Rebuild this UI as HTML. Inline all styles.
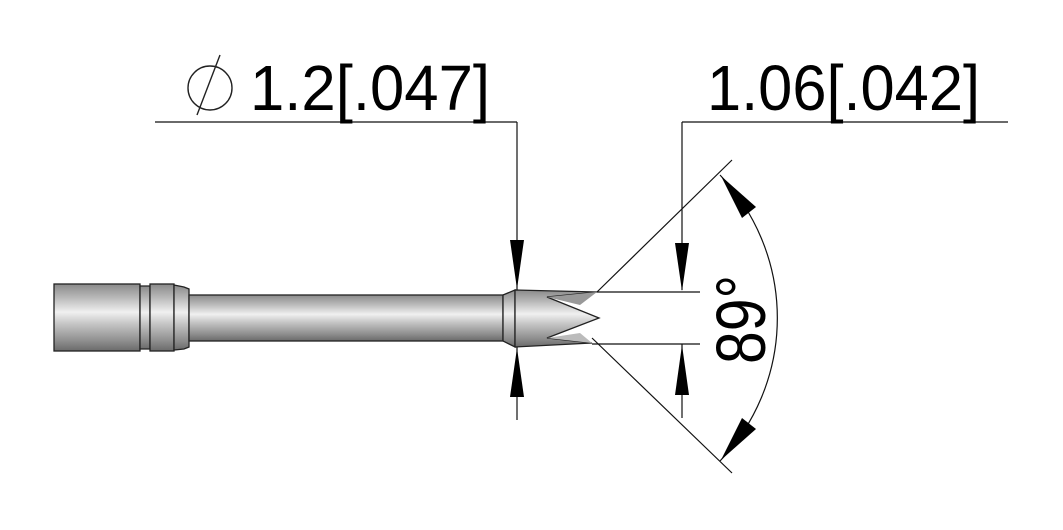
<!DOCTYPE html>
<html><head><meta charset="utf-8"><style>html,body{margin:0;padding:0;background:#fff}svg{display:block}</style></head><body>
<svg width="1063" height="530" viewBox="0 0 1063 530" xmlns="http://www.w3.org/2000/svg">
<defs>
<linearGradient id="g" x1="0" y1="0" x2="0" y2="1">
<stop offset="0" stop-color="#8a8a8a"/><stop offset="0.2" stop-color="#b8b8b8"/><stop offset="0.42" stop-color="#f0f0f0"/><stop offset="0.6" stop-color="#c4c4c4"/><stop offset="0.85" stop-color="#8e8e8e"/><stop offset="1" stop-color="#6a6a6a"/>
</linearGradient>
</defs>
<g stroke="#222" stroke-width="1.3" fill="url(#g)">
<rect x="54" y="284" width="86" height="67"/>
<path d="M140 286 L150 286 L150 349 L140 349 Z"/>
<rect x="150" y="284" width="24" height="67"/>
<path d="M174 285 L184 287 L189 289 L189 347 L184 349 L174 350 Z"/>
<rect x="189" y="295" width="314" height="46"/>
<path d="M503 295 L515 290 L515 347 L503 341 Z"/>
<path d="M515 290 L597 292 L547 297 L599 318 L547 338 L592 343 L515 347 Z"/>
</g>
<path d="M547 297 L597 292 L580 305 Z" fill="#999"/>
<path d="M547 338 L592 343 L580 333 Z" fill="#bbb"/>
<g stroke="#111" stroke-width="1.2" fill="none">
<line x1="155" y1="122" x2="517" y2="122"/>
<line x1="517" y1="122" x2="517" y2="290"/>
<line x1="517" y1="347" x2="517" y2="420"/>
<line x1="682" y1="122" x2="1008" y2="122"/>
<line x1="682" y1="122" x2="682" y2="290"/>
<line x1="682" y1="344" x2="682" y2="418"/>
<line x1="597" y1="292" x2="700" y2="292"/>
<line x1="592" y1="344" x2="700" y2="344"/>
<line x1="597" y1="292" x2="732" y2="160"/>
<line x1="592" y1="338" x2="732" y2="473"/>
<path d="M720 175 A207 207 0 0 1 720 461"/>
</g>
<circle cx="210" cy="88" r="22" stroke="#222" stroke-width="1.4" fill="none"/>
<line x1="220" y1="55" x2="197" y2="115" stroke="#222" stroke-width="1.4"/>
<g fill="#000">
<polygon points="510,240 524,240 517,289"/>
<polygon points="510,397 524,397 517,348"/>
<polygon points="675,243 689,243 682,291"/>
<polygon points="675,395 689,395 682,345"/>
<polygon points="721,176 756,207 742,218"/>
<polygon points="721,460 756,429 742,418"/>
</g>
<g font-family="Liberation Sans, sans-serif" font-size="64" fill="#000">
<text x="250" y="110" textLength="240" lengthAdjust="spacingAndGlyphs">1.2[.047]</text>
<text x="707" y="110" textLength="273" lengthAdjust="spacingAndGlyphs">1.06[.042]</text>
<text transform="translate(765,364) rotate(-90)" font-size="70" textLength="89" lengthAdjust="spacingAndGlyphs">89°</text>
</g>
</svg>
</body></html>
